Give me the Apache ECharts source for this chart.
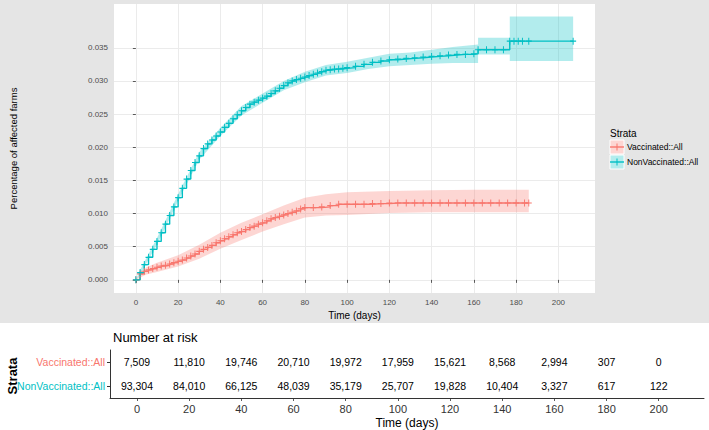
<!DOCTYPE html>
<html><head><meta charset="utf-8">
<script src="https://cdn.jsdelivr.net/npm/echarts@6/dist/echarts.min.js"></script>
<style>html,body{margin:0;padding:0;background:#fff}#c{width:709px;height:430px}</style>
</head><body><div id="c"></div>
<script>
// ---------- data ----------
const strata = ['Vaccinated::All', 'NonVaccinated::All'];

// NonVaccinated::All cumulative incidence (step curve, censor marks at each point)
const nonT = [0,2,4,6,8,10,12,14,16,18,20,22,24,26,28,30,32,34,36,38,40,42,44,46,48,50,52,54,56,58,60,62,64,66,68,70,72,74,76,78,80,82,84,86,88,90,92,94,96,98,100,104,108,112,116,120,124,128,132,136,140,144,148,152,156,160,162,166,170,174,177,179,181,183,186,207];
const nonV = [0,0.0011,0.0023,0.0034,0.0046,0.0058,0.0071,0.0084,0.0097,0.0110,0.0124,0.0138,0.0152,0.0165,0.0177,0.0187,0.0198,0.0205,0.0211,0.0217,0.0223,0.0230,0.0236,0.0243,0.0249,0.0255,0.0260,0.0265,0.0268,0.0271,0.0274,0.0277,0.0281,0.0285,0.0289,0.0293,0.0297,0.0300,0.0302,0.0304,0.0306,0.0308,0.0310,0.0312,0.0314,0.0316,0.0317,0.0318,0.0318,0.0319,0.0320,0.0322,0.0325,0.0328,0.0330,0.0332,0.0333,0.0334,0.0335,0.0336,0.0337,0.0338,0.0339,0.0340,0.0340,0.0341,0.0347,0.0347,0.0347,0.0347,0.0360,0.0360,0.0360,0.0360,0.0360,0.0360];
// NonVaccinated confidence band
const nonBandT  = [0,2,5,10,20,30,40,50,60,70,80,90,100,110,120,130,140,150,162,162,177,177,207];
const nonBandLo = [0,0.0007,0.0025,0.0053,0.0119,0.0181,0.0217,0.0248,0.0267,0.0286,0.0298,0.0308,0.0312,0.0318,0.0322,0.0324,0.0326,0.0327,0.0327,0.0340,0.0340,0.0330,0.0330];
const nonBandHi = [0,0.0015,0.0033,0.0063,0.0129,0.0193,0.0229,0.0262,0.0281,0.0300,0.0314,0.0324,0.0329,0.0335,0.0341,0.0343,0.0347,0.0351,0.0355,0.0365,0.0365,0.0397,0.0397];

// Vaccinated::All cumulative incidence
const vacT = [0,2,4,6,8,10,12,14,16,18,20,22,24,26,28,30,32,34,36,38,40,42,44,46,48,50,52,54,56,58,60,62,64,66,68,70,72,74,76,78,80,84,88,92,96,100,104,108,112,116,120,124,128,132,136,140,144,148,152,156,160,164,168,172,176,180,184,186];
const vacV = [0,0.0009,0.0013,0.0015,0.0017,0.0019,0.0021,0.0022,0.0024,0.0026,0.0028,0.0030,0.0033,0.0036,0.0039,0.0043,0.0046,0.0049,0.0052,0.0056,0.0059,0.0062,0.0065,0.0068,0.0071,0.0073,0.0076,0.0079,0.0081,0.0084,0.0086,0.0089,0.0092,0.0094,0.0096,0.0098,0.0100,0.0102,0.0104,0.0107,0.0109,0.0109,0.0110,0.0112,0.0114,0.0114,0.0114,0.0114,0.0115,0.0115,0.0116,0.0116,0.0116,0.0116,0.0116,0.0116,0.0116,0.0116,0.0116,0.0116,0.0116,0.0116,0.0116,0.0116,0.0116,0.0116,0.0116,0.0116];
const vacBandT  = [0,5,10,20,30,40,50,60,70,80,90,100,120,140,160,186];
const vacBandLo = [0,0.0008,0.0012,0.0020,0.0032,0.0047,0.0060,0.0073,0.0084,0.0094,0.0097,0.0098,0.0101,0.0102,0.0102,0.0102];
const vacBandHi = [0,0.0019,0.0026,0.0037,0.0053,0.0071,0.0086,0.0099,0.0112,0.0124,0.0129,0.0132,0.0134,0.0135,0.0136,0.0136];

// Number at risk table
const riskTimes = [0,20,40,60,80,100,120,140,160,180,200];
const vacRisk = [7509,11810,19746,20710,19972,17959,15621,8568,2994,307,0];
const nonRisk = [93304,84010,66125,48039,35179,25707,19828,10404,3327,617,122];

// tick labels
const xTicks = [0,20,40,60,80,100,120,140,160,180,200];
const yTicks = [0,0.005,0.010,0.015,0.020,0.025,0.030,0.035];

// ---------- styling ----------
const colVac = '#F8766D', colNon = '#00BFC4';
const bandVac = 'rgba(248,118,109,0.3)', bandNon = 'rgba(0,191,196,0.3)';
const plus = 'path://M-0.16,-1H0.16V-0.16H1V0.16H0.16V1H-0.16V0.16H-1V-0.16H-0.16Z';

function pairs(t, v) { return t.map((x, i) => [x, v[i]]); }

function bandSeries(bt, lo, hi, fill) {
  return {
    type: 'custom', xAxisIndex: 0, yAxisIndex: 0, z: 1, silent: true, clip: true,
    data: [[0, 0]],
    renderItem: function (params, api) {
      const pts = [];
      for (let i = 0; i < bt.length; i++) pts.push(api.coord([bt[i], hi[i]]));
      for (let i = bt.length - 1; i >= 0; i--) pts.push(api.coord([bt[i], lo[i]]));
      return { type: 'polygon', shape: { points: pts }, style: { fill: fill } };
    }
  };
}

function stepSeries(name, t, v, color) {
  return {
    name: name, type: 'line', xAxisIndex: 0, yAxisIndex: 0, z: 3,
    data: pairs(t, v), step: 'end',
    showSymbol: true, symbol: plus, symbolSize: [6, 7],
    itemStyle: { color: color }, lineStyle: { color: color, width: 1.4 },
    silent: true
  };
}

const riskData = [];
riskTimes.forEach((t, i) => {
  riskData.push([t, 0, vacRisk[i]]);
  riskData.push([t, 1, nonRisk[i]]);
});

const tickStyle = { show: true, length: 3, lineStyle: { color: '#333', width: 0.8 } };

const chart = echarts.init(document.getElementById('c'), null, { renderer: 'svg' });
chart.setOption({
  animation: false,
  backgroundColor: '#ffffff',
  title: {
    text: 'Number at risk', left: 108, top: 326,
    textStyle: { fontSize: 13, fontWeight: 'normal', color: '#000', fontFamily: 'Liberation Sans' }
  },
  grid: [
    { left: 110, top: 4, width: 485, height: 289, show: true, backgroundColor: '#ffffff', borderWidth: 0 },
    { left: 110, top: 350, width: 594, height: 48, show: false }
  ],
  xAxis: [
    {
      gridIndex: 0, type: 'value', min: -10.35, max: 217.35,
      name: 'Time (days)', nameLocation: 'middle', nameGap: 15,
      nameTextStyle: { fontSize: 10, color: '#000', fontFamily: 'Liberation Sans' },
      axisLine: { show: false },
      axisTick: Object.assign({ customValues: xTicks }, tickStyle),
      axisLabel: { customValues: xTicks, fontSize: 8, color: '#4D4D4D', margin: 5, fontFamily: 'Liberation Sans' },
      splitLine: { show: true, lineStyle: { color: '#EBEBEB', width: 1 } }
    },
    {
      gridIndex: 1, type: 'value', min: -10.35, max: 217.35,
      name: 'Time (days)', nameLocation: 'middle', nameGap: 19,
      nameTextStyle: { fontSize: 12, color: '#000', fontFamily: 'Liberation Sans' },
      axisLine: { show: true, onZero: false, lineStyle: { color: '#333', width: 1 } },
      axisTick: Object.assign({ customValues: xTicks }, tickStyle),
      axisLabel: { customValues: xTicks, fontSize: 11, color: '#333', margin: 5, fontFamily: 'Liberation Sans' },
      splitLine: { show: false }
    }
  ],
  yAxis: [
    {
      gridIndex: 0, type: 'value', min: -0.00198, max: 0.0416,
      name: 'Percentage of affected farms', nameLocation: 'middle', nameGap: 96, nameRotate: 90,
      nameTextStyle: { fontSize: 9.5, color: '#000', fontFamily: 'Liberation Sans' },
      axisLine: { show: false },
      axisTick: Object.assign({ customValues: yTicks }, tickStyle),
      axisLabel: { customValues: yTicks, fontSize: 8, color: '#4D4D4D', margin: 6, fontFamily: 'Liberation Sans',
        formatter: v => v.toFixed(3) },
      splitLine: { show: true, lineStyle: { color: '#EBEBEB', width: 1 } }
    },
    {
      gridIndex: 1, type: 'category', data: strata, inverse: true,
      axisLine: { show: true, onZero: false, lineStyle: { color: '#333', width: 1 } },
      axisTick: { show: true, alignWithLabel: true, length: 3, lineStyle: { color: '#333' } },
      axisLabel: { fontSize: 10.5, margin: 5, fontFamily: 'Liberation Sans',
        color: (v, i) => (v === strata[0] ? colVac : colNon) },
      splitLine: { show: false }
    }
  ],
  graphic: [
    { type: 'rect', z: -100, silent: true, shape: { x: 0, y: 0, width: 709, height: 323 }, style: { fill: '#E5E5E5' } },
    { type: 'text', z: 100, x: 610, y: 133, style: { text: 'Strata', fontSize: 10, fill: '#000', align: 'left', verticalAlign: 'middle', fontFamily: 'Liberation Sans' } },
    { type: 'rect', z: 100, shape: { x: 610, y: 140, width: 14, height: 14 }, style: { fill: '#FDD6D3', stroke: '#ffffff', lineWidth: 1 } },
    { type: 'line', z: 101, shape: { x1: 610, y1: 147, x2: 624, y2: 147 }, style: { stroke: colVac, lineWidth: 1.4 } },
    { type: 'line', z: 101, shape: { x1: 617, y1: 143.5, x2: 617, y2: 150.5 }, style: { stroke: colVac, lineWidth: 1 } },
    { type: 'text', z: 100, x: 627, y: 147, style: { text: strata[0], fontSize: 8.5, fill: '#000', align: 'left', verticalAlign: 'middle', fontFamily: 'Liberation Sans' } },
    { type: 'rect', z: 100, shape: { x: 610, y: 155, width: 14, height: 14 }, style: { fill: '#B3ECED', stroke: '#ffffff', lineWidth: 1 } },
    { type: 'line', z: 101, shape: { x1: 610, y1: 162, x2: 624, y2: 162 }, style: { stroke: colNon, lineWidth: 1.4 } },
    { type: 'line', z: 101, shape: { x1: 617, y1: 158.5, x2: 617, y2: 165.5 }, style: { stroke: colNon, lineWidth: 1 } },
    { type: 'text', z: 100, x: 627, y: 162, style: { text: strata[1], fontSize: 8.5, fill: '#000', align: 'left', verticalAlign: 'middle', fontFamily: 'Liberation Sans' } },
    { type: 'text', z: 100, x: 12, y: 376, rotation: Math.PI / 2, style: { text: 'Strata', fontSize: 13, fontWeight: 'bold', fill: '#000', align: 'center', verticalAlign: 'middle', fontFamily: 'Liberation Sans' } }
  ],
  series: [
    bandSeries(vacBandT, vacBandLo, vacBandHi, bandVac),
    bandSeries(nonBandT, nonBandLo, nonBandHi, bandNon),
    stepSeries(strata[0], vacT, vacV, colVac),
    stepSeries(strata[1], nonT, nonV, colNon),
    {
      type: 'custom', xAxisIndex: 1, yAxisIndex: 1, silent: true,
      data: riskData,
      renderItem: function (params, api) {
        const p = api.coord([api.value(0), api.value(1)]);
        return { type: 'text', x: p[0], y: p[1],
          style: { text: api.value(2).toLocaleString('en-US'), align: 'center', verticalAlign: 'middle',
            fontSize: 10.5, fill: '#000', fontFamily: 'Liberation Sans' } };
      }
    }
  ]
});
</script>
</body></html>
